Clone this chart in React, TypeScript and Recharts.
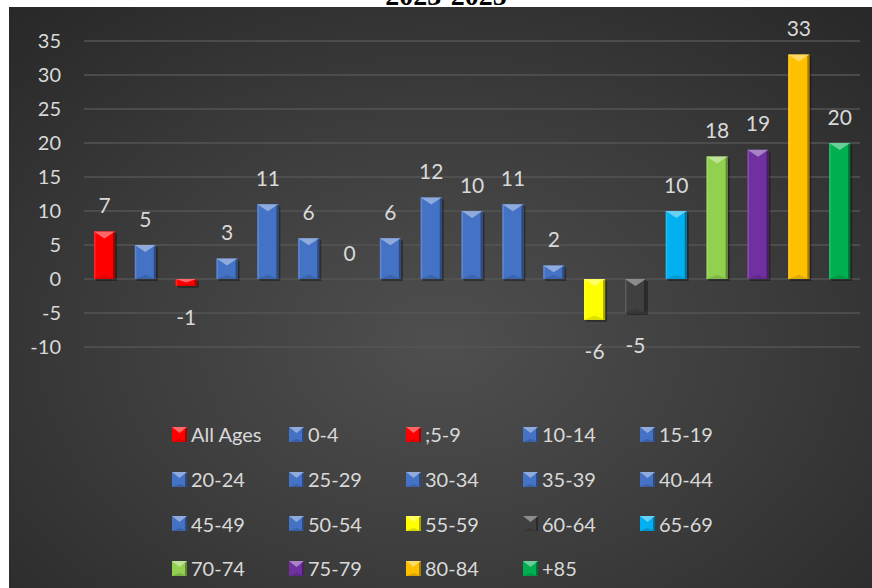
import { Bar, BarChart, CartesianGrid, LabelList, Legend, XAxis, YAxis } from 'recharts';

const ageGroups = [
  'All Ages', '0-4', ';5-9', '10-14', '15-19',
  '20-24', '25-29', '30-34', '35-39', '40-44',
  '45-49', '50-54', '55-59', '60-64', '65-69',
  '70-74', '75-79', '80-84', '+85',
];
const changes = [7, 5, -1, 3, 11, 6, 0, 6, 12, 10, 11, 2, -6, -5, 10, 18, 19, 33, 20];
const yTicks = [-10, -5, 0, 5, 10, 15, 20, 25, 30, 35];
const title = '2023-2025';

const RED = '#ff0000';
const BLUE = '#4472c4';
const barColors = [
  RED, BLUE, RED, BLUE, BLUE,
  BLUE, BLUE, BLUE, BLUE, BLUE,
  BLUE, BLUE, '#ffff00', '#404040', '#00b0f0',
  '#92d050', '#7030a0', '#ffc000', '#00b050',
];

const rows = ageGroups.map((name, i) => ({ name, value: changes[i], color: barColors[i] }));

const FONT = 'Lato, "Open Sans", sans-serif';
const TEXT = '#d9d9d9';

const shade = (hex: string, amt: number) => {
  const n = parseInt(hex.slice(1), 16);
  const mix = (c: number) =>
    Math.round(amt >= 0 ? c + (255 - c) * amt : c * (1 + amt));
  const r = mix((n >> 16) & 255);
  const g = mix((n >> 8) & 255);
  const b = mix(n & 255);
  return `rgb(${r},${g},${b})`;
};

// bevelled bar: light triangle on the top edge, darker base and right side
const BevelBar = (props: any) => {
  const { x, width, payload } = props;
  const top = Math.min(props.y, props.y + props.height);
  const h = Math.abs(props.height);
  if (!h) return null;
  const color = payload.color;
  const tri = Math.min(7, h / 2);
  return (
    <g>
      <rect x={x + 2} y={top + 2} width={width} height={h} fill="#000" opacity={0.35} />
      <rect x={x} y={top} width={width} height={h} fill={color} />
      <rect x={x + width - 2} y={top} width={2} height={h} fill={shade(color, -0.35)} />
      <rect x={x} y={top} width={1.5} height={h} fill={shade(color, 0.15)} />
      <polygon
        points={`${x},${top + h} ${x + width},${top + h} ${x + width / 2},${top + h - tri * 0.6}`}
        fill={shade(color, -0.12)}
      />
      <polygon
        points={`${x},${top} ${x + width},${top} ${x + width / 2},${top + tri}`}
        fill={shade(color, 0.4)}
      />
    </g>
  );
};

const ValueLabel = (props: any) => {
  const { x, width, value } = props;
  const top = Math.min(props.y, props.y + props.height);
  const bottom = Math.max(props.y, props.y + props.height);
  const cy = value < 0 ? bottom + 31 : top - 27;
  return (
    <text
      x={x + width / 2}
      y={cy}
      textAnchor="middle"
      dominantBaseline="central"
      fill={TEXT}
      fontSize={21}
      fontFamily={FONT}
    >
      {value}
    </text>
  );
};

const Marker = ({ color }: { color: string }) => (
  <svg width={15} height={15} style={{ display: 'block' }}>
    <rect x={0} y={0} width={15} height={15} fill={color} />
    <rect x={13} y={0} width={2} height={15} fill={shade(color, -0.35)} />
    <polygon points="0,15 15,15 7.5,12" fill={shade(color, -0.15)} />
    <polygon points="0,0 15,0 7.5,6" fill={shade(color, 0.4)} />
  </svg>
);

const LegendGrid = () => (
  <div
    style={{
      display: 'grid',
      gridTemplateColumns: 'repeat(5, 117px)',
      gridAutoRows: '44.7px',
      alignItems: 'center',
    }}
  >
    {rows.map((r) => (
      <div key={r.name} style={{ display: 'flex', alignItems: 'center' }}>
        <Marker color={r.color} />
        <span
          style={{
            marginLeft: 4,
            color: TEXT,
            fontSize: 20,
            fontFamily: FONT,
            whiteSpace: 'nowrap',
          }}
        >
          {r.name}
        </span>
      </div>
    ))}
  </div>
);

export default function App() {
  return (
    <div style={{ position: 'relative', width: 872, height: 588, overflow: 'hidden', background: '#fff' }}>
      <style>{'body { margin: 0; }'}</style>
      <div
        style={{
          position: 'absolute',
          left: 9,
          top: 7,
          width: 863,
          height: 581,
          background:
            'radial-gradient(ellipse 75% 80% at 50% 58%, #4f4f4f 0%, #3c3c3c 50%, #272727 100%)',
        }}
      >
        <BarChart
          width={863}
          height={581}
          data={rows}
          margin={{ top: 34, right: 12, bottom: 241, left: 0 }}
        >
          <CartesianGrid vertical={false} stroke="#555555" strokeWidth={1.5} />
          <XAxis dataKey="name" hide />
          <YAxis
            width={75}
            domain={[-10, 35]}
            ticks={yTicks}
            axisLine={false}
            tickLine={false}
            tickMargin={17}
            tick={{ fill: TEXT, fontSize: 20, fontFamily: FONT }}
          />
          <Legend
            layout="vertical"
            verticalAlign="middle"
            align="center"
            content={<LegendGrid />}
            wrapperStyle={{ left: 163, top: 405, width: 600 }}
          />
          <Bar dataKey="value" barSize={21} shape={<BevelBar />} isAnimationActive={false}>
            <LabelList dataKey="value" content={<ValueLabel />} />
          </Bar>
        </BarChart>
      </div>
      {/* title mostly runs off the top of the page; only its base shows */}
      <svg
        width={872}
        height={7}
        style={{ position: 'absolute', left: 0, top: 0, overflow: 'visible' }}
      >
        <text
          x={446}
          y={5}
          textAnchor="middle"
          fontFamily='"Liberation Serif", serif'
          fontWeight="bold"
          fontSize={28}
          fill="#000"
        >
          {title}
        </text>
      </svg>
    </div>
  );
}
